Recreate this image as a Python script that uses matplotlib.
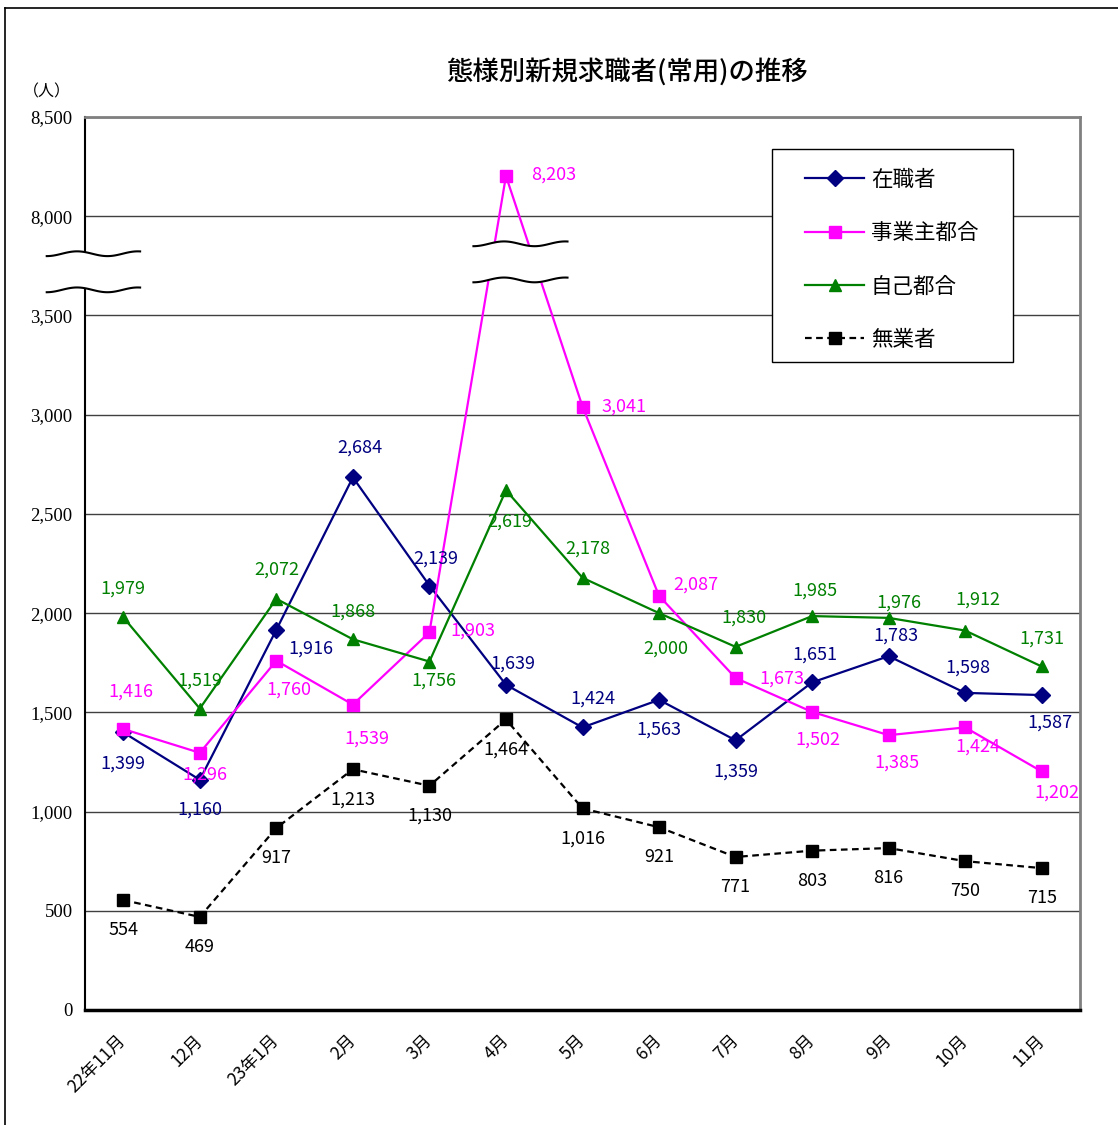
import numpy as np
import matplotlib
matplotlib.use("Agg")
import matplotlib.pyplot as plt
from matplotlib.lines import Line2D
from matplotlib.patches import Rectangle

plt.rcParams['font.family'] = ['Noto Sans CJK JP', 'DejaVu Sans']

# data
months = ['22年11月', '12月', '23年1月', '2月', '3月', '4月', '5月',
          '6月', '7月', '8月', '9月', '10月', '11月']
employed = [1399, 1160, 1916, 2684, 2139, 1639, 1424, 1563, 1359, 1651, 1783, 1598, 1587]
employer = [1416, 1296, 1760, 1539, 1903, 8203, 3041, 2087, 1673, 1502, 1385, 1424, 1202]
voluntary = [1979, 1519, 2072, 1868, 1756, 2619, 2178, 2000, 1830, 1985, 1976, 1912, 1731]
jobless = [554, 469, 917, 1213, 1130, 1464, 1016, 921, 771, 803, 816, 750, 715]
series_names = ['在職者', '事業主都合', '自己都合', '無業者']
ytick_values = [0, 500, 1000, 1500, 2000, 2500, 3000, 3500, 8000, 8500]

# broken axis: everything above 3500 is shifted down by 4000
BREAK_LOW, BREAK_SHIFT = 3500, 4000


def squash(v):
    v = np.asarray(v, dtype=float)
    return np.where(v > BREAK_LOW, v - BREAK_SHIFT, v)


# label offsets in pixels (dx, dy up)
off_employed = [(0, -31), (0, -30), (35, -19), (7, 30), (6, 27), (7, 21), (10, 29),
                (0, -30), (0, -31), (3, 28), (7, 21), (3, 25), (8, -28)]
off_employer = [(8, 37), (5, -22), (13, -29), (14, -34), (43, 2), (48, 1), (42, 0),
                (37, 11), (46, -1), (6, -28), (8, -27), (13, -19), (15, -21)]
off_voluntary = [(0, 29), (0, 28), (0, 29), (0, 28), (4, -19), (4, -31), (5, 29),
                 (7, -36), (8, 29), (3, 25), (10, 15), (13, 31), (0, 28)]
off_jobless = [(0, -30)] * 13

W, H = 1118, 1125
fig = plt.figure(figsize=(W / 100, H / 100), dpi=100)
ax = fig.add_axes([85 / W, 1 - 1010 / H, (1080 - 85) / W, (1010 - 117) / H])

x = np.arange(len(months))
styles = [
    (employed, off_employed, dict(color='#000080', marker='D', ms=8, ls='-')),
    (employer, off_employer, dict(color='#FF00FF', marker='s', ms=9, ls='-')),
    (voluntary, off_voluntary, dict(color='#008000', marker='^', ms=9, ls='-')),
    (jobless, off_jobless, dict(color='black', marker='s', ms=9, ls=(0, (3, 2)))),
]
handles = []
for (vals, offs, st), name in zip(styles, series_names):
    h, = ax.plot(x, squash(vals), lw=1.6, label=name, zorder=3, **st)
    handles.append(h)
    for xi, v, (dx, dy) in zip(x, vals, offs):
        ax.annotate(f'{v:,}', (xi, squash([v])[0]), xytext=(dx * 0.72, dy * 0.72),
                    textcoords='offset points', ha='center', va='center',
                    fontsize=13, color=st['color'], zorder=4)

ax.set_xlim(-0.5, len(months) - 0.5)
ax.set_ylim(0, 4500)
ax.set_yticks(squash(ytick_values))
ax.set_yticklabels([f'{v:,}' for v in ytick_values], fontfamily='Liberation Serif', fontsize=13.5)
ax.set_xticks(x)
ax.set_xticklabels(months, rotation=45, ha='right', va='center', rotation_mode='anchor', fontsize=12.5)
ax.tick_params(axis='y', length=0, pad=9)
ax.tick_params(axis='x', length=0, pad=20)
ax.grid(axis='y', color='#404040', lw=1)
ax.set_axisbelow(True)
for s in ['left', 'bottom']:
    ax.spines[s].set_color('black')
ax.spines['left'].set_linewidth(1.5)
ax.spines['bottom'].set_linewidth(2.5)
for s in ['top', 'right']:
    ax.spines[s].set_color('#808080')
    ax.spines[s].set_linewidth(2)


# axis break marks
def wave(x0, x1, yc, half_gap):
    t = np.linspace(0, 1, 80)
    xs = x0 + (x1 - x0) * t
    amp = 12
    w = -amp * np.cos(2 * np.pi * t / 0.65)
    return xs, yc + half_gap + w, yc - half_gap + w


for x0, x1, yc in [(-1.0, 0.22, 3720), (4.575, 5.804, 3770)]:
    xs, top, bot = wave(x0, x1, yc, 91)
    ax.fill_between(xs, bot, top, color='white', zorder=5, clip_on=False, lw=0)
    ax.plot(xs, top, color='black', lw=1.5, zorder=6, clip_on=False)
    ax.plot(xs, bot, color='black', lw=1.5, zorder=6, clip_on=False)

# legend: frame drawn separately so the padding can differ per side
ax.add_patch(Rectangle((772 / W, 1 - 362 / H), (1013 - 772) / W, (362 - 149) / H,
                       transform=fig.transFigure, facecolor='white', edgecolor='black',
                       lw=1, zorder=9, clip_on=False))
leg = ax.legend(handles=handles, loc='upper left', bbox_to_anchor=(805 / W, 1 - 169 / H),
                bbox_transform=fig.transFigure, borderaxespad=0, borderpad=0, frameon=False,
                fontsize=15.5, labelspacing=1.45, handlelength=2.75, handletextpad=0.3)
leg.set_zorder(10)

fig.text(627 / W, 1 - 72 / H, '態様別新規求職者(常用)の推移', ha='center', va='center',
         fontsize=19, fontweight='medium')
fig.text(47 / W, 1 - 92 / H, '（人）', ha='center', va='center', fontsize=11.5)

# outer frame
fig.add_artist(Line2D([5 / W, 1.0], [1 - 8 / H, 1 - 8 / H], color='black', lw=1.2))
fig.add_artist(Line2D([5 / W, 5 / W], [0, 1 - 8 / H], color='black', lw=1.2))

fig.savefig('out.png', dpi=100, facecolor='white')
